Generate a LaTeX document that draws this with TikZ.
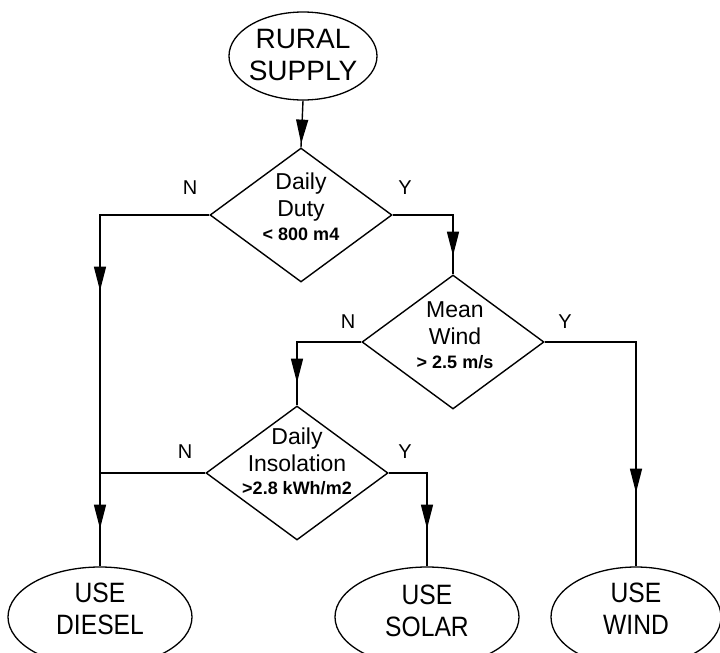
\documentclass[tikz,border=0pt]{standalone}
\usepackage{fontspec}
\setmainfont{Liberation Sans}
\newfontfamily\condfont[FakeStretch=0.88]{Liberation Sans}
\usetikzlibrary{shapes.geometric,arrows.meta,decorations.markings,calc}
\begin{document}
\begin{tikzpicture}[x=1pt,y=-1pt,
  line width=1.4pt,
  oval/.style={ellipse,draw,line width=1.3pt,inner sep=0pt},
  dia/.style={diamond,draw,line width=1.4pt,inner sep=0pt,minimum width=182pt,minimum height=134pt},
  bigtext/.style={font=\fontsize{28}{32}\selectfont,align=center,inner sep=0pt},
  condtext/.style={font=\condfont\fontsize{28}{32}\selectfont,align=center,inner sep=0pt},
  diatext/.style={font=\fontsize{23}{27}\selectfont,align=center,inner sep=0pt},
  yn/.style={font=\fontsize{20}{24}\selectfont,inner sep=0pt},
  marr/.style={postaction={decorate,decoration={markings,
    mark=at position #1 with {\arrow{Triangle[length=24pt,width=12pt]}}}}}
]
\useasboundingbox (0,0) rectangle (720,653);
\clip (0,0) rectangle (720,653);

% terminals
\node[oval,minimum width=148pt,minimum height=88pt] (rural) at (303,56) {};
\node[bigtext] (ruralt) at (303,55) {RURAL\\SUPPLY};

\node[oval,minimum width=184pt,minimum height=100pt] (diesel) at (100,617) {};
\node[condtext] (dieselt) at (100,609) {USE\\DIESEL};

\node[oval,minimum width=184pt,minimum height=100pt] (solar) at (427,617) {};
\node[condtext] (solart) at (427,611) {USE\\SOLAR};

\node[oval,minimum width=170pt,minimum height=100pt] (wind) at (636,617) {};
\node[condtext] (windt) at (636,609) {USE\\WIND};

% decisions
\node[dia] (d1) at (301,215) {};
\node[diatext] (d1t) at (301,207) {Daily\\Duty\\[-3pt]{\fontsize{18}{22}\bfseries\selectfont < 800 m4}};

\node[dia] (d2) at (453,342) {};
\node[diatext] (d2t) at (455,335) {Mean\\Wind\\[-3pt]{\fontsize{18}{22}\bfseries\selectfont > 2.5 m/s}};

\node[dia] (d3) at (297,473) {};
\node[diatext] (d3t) at (297,461) {Daily\\Insolation\\[-4pt]{\fontsize{18}{22}\bfseries\selectfont >2.8 kWh/m2}};

% branch labels
\node[yn] (n1) at (190,188) {N};
\node[yn] (y1) at (405,188) {Y};
\node[yn] (n2) at (348,322) {N};
\node[yn] (y2) at (565,322) {Y};
\node[yn] (n3) at (185,452) {N};
\node[yn] (y3) at (405,452) {Y};

% connectors
\draw[marr=43pt] (rural.south) -- (d1.north);
\draw[marr=185pt,marr=423pt] (d1.west) -| (diesel.north);
\draw[marr=101pt] (d1.east) -| (d2.north);
\draw[marr=105pt] (d2.west) -| (d3.north);
\draw[marr=242pt] (d2.east) -| (wind.north);
\coordinate (join) at (d3.west -| diesel.north);
\draw (d3.west) -- (join);
\draw[marr=94pt] (d3.east) -| (solar.north);
\end{tikzpicture}
\end{document}
